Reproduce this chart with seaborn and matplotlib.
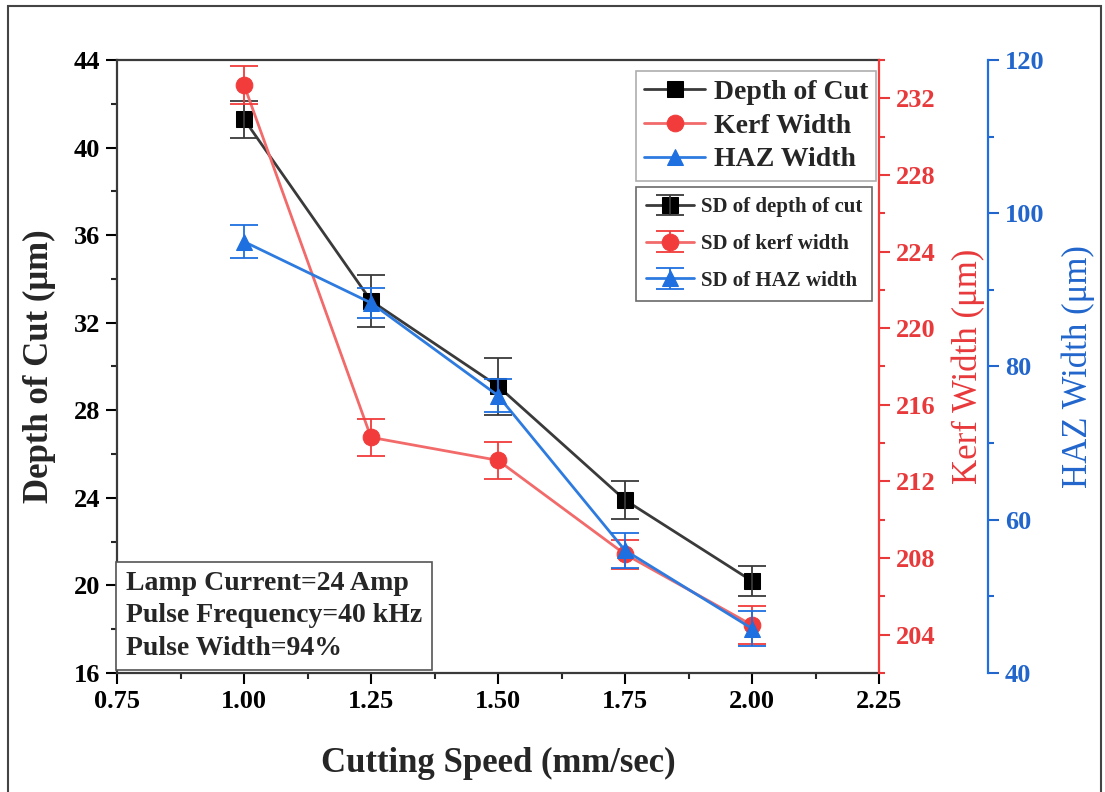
import numpy as np
import pandas as pd
import matplotlib
matplotlib.use("Agg")
import matplotlib.pyplot as plt
import seaborn as sns
from matplotlib.ticker import MultipleLocator
from matplotlib.legend_handler import HandlerTuple
from matplotlib.patches import Rectangle

# ---- data ----
speed = [1.00, 1.25, 1.50, 1.75, 2.00]
depth_of_cut = [41.3, 33.0, 29.1, 23.9, 20.2]
depth_sd = [0.85, 1.2, 1.3, 0.85, 0.7]
kerf_width = [232.7, 214.3, 213.1, 208.2, 204.5]
kerf_sd = [1.0, 0.95, 0.95, 0.75, 1.0]
haz_width = [96.3, 88.3, 76.2, 56.0, 45.8]
haz_sd = [2.2, 2.0, 2.2, 2.3, 2.3]

series_labels = ["Depth of Cut", "Kerf Width", "HAZ Width"]
sd_labels = ["SD of depth of cut", "SD of kerf width", "SD of HAZ width"]
annotation_lines = ["Lamp Current=24 Amp", "Pulse Frequency=40 kHz", "Pulse Width=94%"]

df = pd.DataFrame({"speed": speed, "depth": depth_of_cut, "kerf": kerf_width, "haz": haz_width})

sns.set_style("ticks")
plt.rcParams["font.family"] = ["Liberation Serif", "DejaVu Serif"]
plt.rcParams["font.weight"] = "bold"
plt.rcParams["mathtext.default"] = "regular"

BLACK = "#000000"
BLACK_LINE = "#3a3a3a"
RED = "#F23B3B"
RED_LINE = "#F26A6A"
RED_TXT = "#E8393B"
BLUE = "#1E6FE0"
BLUE_LINE = "#2E7BE0"
BLUE_TXT = "#2266CC"

fig = plt.figure(figsize=(11.05, 7.92), dpi=100)
ax = fig.add_axes([0.1059, 0.1503, 0.6896, 0.7739])
ax2 = ax.twinx()
ax3 = ax.twinx()

ms = 11
sns.lineplot(data=df, x="speed", y="depth", ax=ax, color=BLACK_LINE, lw=2,
             marker="s", markersize=ms, markerfacecolor=BLACK, markeredgecolor=BLACK, legend=False)
sns.lineplot(data=df, x="speed", y="kerf", ax=ax2, color=RED_LINE, lw=2,
             marker="o", markersize=ms + 1, markerfacecolor=RED, markeredgecolor=RED, legend=False)
sns.lineplot(data=df, x="speed", y="haz", ax=ax3, color=BLUE_LINE, lw=2,
             marker="^", markersize=ms + 1, markerfacecolor=BLUE, markeredgecolor=BLUE, legend=False)

eb1 = ax.errorbar(speed, depth_of_cut, yerr=depth_sd, fmt="none", ecolor=BLACK_LINE, elinewidth=1.3, capsize=10, capthick=1.3)
eb2 = ax2.errorbar(speed, kerf_width, yerr=kerf_sd, fmt="none", ecolor=RED, elinewidth=1.3, capsize=10, capthick=1.3)
eb3 = ax3.errorbar(speed, haz_width, yerr=haz_sd, fmt="none", ecolor=BLUE, elinewidth=1.3, capsize=10, capthick=1.3)

l1 = ax.get_lines()[0]
l2 = ax2.get_lines()[0]
l3 = ax3.get_lines()[0]

# limits & ticks
ax.set_xlim(0.75, 2.25)
ax.set_ylim(16, 44)
ax2.set_ylim(202, 234)
ax3.set_ylim(40, 120)
ax.xaxis.set_major_locator(MultipleLocator(0.25))
ax.xaxis.set_minor_locator(MultipleLocator(0.125))
ax.yaxis.set_major_locator(MultipleLocator(4))
ax.yaxis.set_minor_locator(MultipleLocator(2))
ax2.yaxis.set_major_locator(MultipleLocator(4))
ax2.yaxis.set_minor_locator(MultipleLocator(2))
ax3.yaxis.set_major_locator(MultipleLocator(20))
ax3.yaxis.set_minor_locator(MultipleLocator(10))
ax.xaxis.set_major_formatter(matplotlib.ticker.FormatStrFormatter("%.2f"))

tickfs = 19
for a in (ax, ax2, ax3):
    a.tick_params(which="major", direction="out", length=8, width=1.5, labelsize=tickfs, pad=4)
    a.tick_params(which="minor", direction="out", length=4, width=1.5)
ax.tick_params(axis="both", colors=BLACK)
ax2.tick_params(axis="y", which="both", colors=RED_TXT)
ax3.tick_params(axis="y", which="both", colors=BLUE_TXT)
ax2.yaxis.set_ticks_position("right")
ax3.yaxis.set_ticks_position("right")
ax.yaxis.set_ticks_position("left")
ax.xaxis.set_ticks_position("bottom")

for lab in ax.get_xticklabels() + ax.get_yticklabels() + ax2.get_yticklabels() + ax3.get_yticklabels():
    lab.set_fontweight("bold")

# spines
for s in ax.spines.values():
    s.set_linewidth(1.6)
    s.set_color(BLACK_LINE)
ax.spines["right"].set_visible(False)
for k in ("left", "top", "bottom"):
    ax2.spines[k].set_visible(False)
    ax3.spines[k].set_visible(False)
ax2.spines["right"].set_color(RED)
ax2.spines["right"].set_linewidth(1.6)
ax3.spines["right"].set_position(("axes", 1.143))
ax3.spines["right"].set_color(BLUE)
ax3.spines["right"].set_linewidth(1.6)

# labels
ax.set_xlabel("Cutting Speed (mm/sec)", fontsize=25, fontweight="bold")
ax.set_ylabel("Depth of Cut (μm)", fontsize=25, fontweight="bold")
ax2.set_ylabel("Kerf Width (μm)", fontsize=25, fontweight="normal", color=RED_TXT)
ax3.set_ylabel("HAZ Width (μm)", fontsize=25, fontweight="normal", color=BLUE_TXT)
ax.xaxis.set_label_coords(0.5, -0.12)
ax.yaxis.set_label_coords(-0.08, 0.5)
ax2.yaxis.set_label_coords(1.095, 0.5)
ax3.yaxis.set_label_coords(1.24, 0.5)

# annotation
ax.text(0.012, 0.02, "\n".join(annotation_lines), transform=ax.transAxes, ha="left", va="bottom",
        fontsize=20, fontweight="bold", linespacing=1.38,
        bbox=dict(boxstyle="square,pad=0.35", fc="white", ec="#555555", lw=1.2), zorder=5)

# legends
leg1 = ax3.legend([l1, l2, l3], series_labels, loc="upper left", bbox_to_anchor=(0.681, 0.982),
                  prop={"weight": "bold", "size": 20}, frameon=True, fancybox=False,
                  edgecolor="#999999", handlelength=2.2, labelspacing=0.3, borderpad=0.3,
                  handletextpad=0.3, borderaxespad=0)
leg1.get_frame().set_linewidth(1.2)
ax3.add_artist(leg1)

h1 = (l1, eb1)
h2 = (l2, eb2)
h3 = (l3, eb3)
leg2 = ax3.legend([h1, h2, h3], sd_labels, loc="upper left", bbox_to_anchor=(0.681, 0.793),
                  prop={"weight": "bold", "size": 15}, frameon=True, fancybox=False,
                  edgecolor="#444444", handlelength=2.3, labelspacing=0.8, borderpad=0.5,
                  handletextpad=0.3, borderaxespad=0,
                  handler_map={tuple: HandlerTuple(ndivide=1)})
leg2.get_frame().set_linewidth(1.2)

# figure border
fig.patches.append(Rectangle((0.0072, -0.05), 0.9888, 1.0424, transform=fig.transFigure,
                             fill=False, ec="#444444", lw=1.5))

fig.savefig("out.png", dpi=100, facecolor="white")
